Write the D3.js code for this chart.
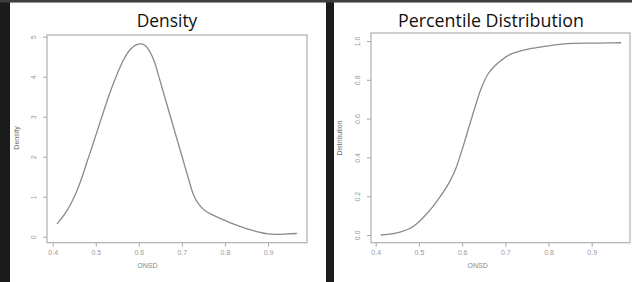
<!DOCTYPE html>
<html><head><meta charset="utf-8">
<script src="https://cdn.jsdelivr.net/npm/d3@7"></script>
<style>
html,body{margin:0;padding:0;background:#1b1b1b;}
svg{display:block;}
text{-webkit-font-smoothing:antialiased;}
</style></head>
<body>
<script>
// ---- data ----
const densityX = [0.41,0.42,0.43,0.44,0.45,0.46,0.47,0.48,0.49,0.50,0.51,0.52,0.534,0.549,0.565,0.58,0.595,0.605,0.615,0.627,0.637,0.646,0.66,0.6735,0.687,0.7005,0.714,0.727,0.74,0.755,0.77,0.79,0.81,0.835,0.86,0.885,0.9,0.92,0.945,0.967];
const densityY = [0.32,0.45,0.6,0.78,1.0,1.25,1.55,1.88,2.2,2.53,2.86,3.19,3.63,4.05,4.43,4.68,4.8,4.82,4.78,4.6,4.35,4.02,3.5,3.0,2.5,2.0,1.5,1.05,0.8,0.64,0.55,0.45,0.36,0.26,0.17,0.1,0.07,0.06,0.07,0.08];
const cdfX = [0.412,0.44,0.46,0.48,0.495,0.51,0.53,0.55,0.57,0.585,0.6,0.615,0.63,0.645,0.66,0.675,0.69,0.71,0.74,0.77,0.8,0.83,0.86,0.9,0.94,0.968];
const cdfY = [0.0,0.007,0.018,0.035,0.058,0.09,0.14,0.2,0.27,0.34,0.44,0.55,0.66,0.76,0.83,0.87,0.9,0.93,0.952,0.965,0.975,0.984,0.988,0.989,0.99,0.991];
const xTicks = [0.4,0.5,0.6,0.7,0.8,0.9];
const densityTicks = [0,1,2,3,4,5];
const cdfTicks = [0,0.2,0.4,0.6,0.8,1.0];
const titles = ["Density","Percentile Distribution"];
const yTitles = ["Density","Distribution"];
const xTitle = "ONSD";

const W = 632, H = 282;
const svg = d3.select("body").append("svg").attr("width",W).attr("height",H);
svg.append("rect").attr("width",W).attr("height",H).attr("fill","#1b1b1b");
svg.append("rect").attr("x",0).attr("y",0).attr("width",W).attr("height",2.5).attr("fill","#3e3e3e");

const panels = [
  {px:10, pw:316, box:[47,35,307,242.7], xr:[52.7,268], yd:[0,5], yr:[236.7,36.7],
   xs:densityX, ys:densityY, yt:densityTicks, fmt:d3.format("d"), title:titles[0], yTitle:yTitles[0], titleW:60.6, titleCx:167, yTitleX:16},
  {px:334, pw:298, box:[371,33,630,242.7], xr:[375.7,591.7], yd:[0,1], yr:[235,41],
   xs:cdfX, ys:cdfY, yt:cdfTicks, fmt:d3.format(".1f"), title:titles[1], yTitle:yTitles[1], titleW:186, titleCx:491, yTitleX:339}
];

panels.forEach(p => {
  svg.append("rect").attr("x",p.px).attr("y",2.5).attr("width",p.pw).attr("height",H-2.5).attr("fill","#ffffff");
  const x = d3.scaleLinear().domain([0.4,0.9]).range(p.xr);
  const y = d3.scaleLinear().domain(p.yd).range(p.yr);
  const [bx0,by0,bx1,by1] = p.box;

  // x axis
  const gx = svg.append("g").attr("transform",`translate(0,${by1})`)
    .call(d3.axisBottom(x).tickValues(xTicks).tickSize(4).tickPadding(3).tickFormat(d3.format(".1f")));
  gx.select(".domain").remove();
  gx.selectAll("line").attr("stroke","#a8a8a8");
  gx.selectAll("text").attr("fill","#9a9a9a").style("font-family","'Liberation Sans',Arial,sans-serif").style("font-size","7px");

  // y axis
  const gy = svg.append("g").attr("transform",`translate(${bx0},0)`)
    .call(d3.axisLeft(y).tickValues(p.yt).tickSize(4).tickFormat(p.fmt));
  gy.select(".domain").remove();
  gy.selectAll("line").attr("stroke","#a8a8a8");
  gy.selectAll("text").attr("fill","#9a9a9a").style("font-family","'Liberation Sans',Arial,sans-serif").style("font-size","7px")
    .attr("transform","rotate(-90)").attr("x",0).attr("y",-11).attr("dy",0).attr("text-anchor","middle");

  // box
  svg.append("rect").attr("x",bx0).attr("y",by0).attr("width",bx1-bx0).attr("height",by1-by0)
    .attr("fill","none").attr("stroke","#b0b0b0").attr("stroke-width",1.2);

  // curve
  const pts = p.xs.map((v,i)=>[v,p.ys[i]]);
  svg.append("path").datum(pts)
    .attr("d", d3.line().x(d=>x(d[0])).y(d=>y(d[1])).curve(d3.curveCatmullRom.alpha(0.5)))
    .attr("fill","none").attr("stroke","#8a8a8a").attr("stroke-width",1.3);

  // axis titles
  svg.append("text").attr("x",(x(0.4)+x(0.9))/2 + (p.px===10? -13 : -6)).attr("y",268)
    .attr("text-anchor","middle").attr("fill","#8a8a8a")
    .style("font-family","'Liberation Sans',Arial,sans-serif").style("font-size","7px").text(xTitle);
  svg.append("text").attr("transform",`translate(${p.yTitleX+2.5},138) rotate(-90)`)
    .attr("text-anchor","middle").attr("fill","#6a6a6a")
    .style("font-family","'Liberation Sans',Arial,sans-serif").style("font-size","7px").text(p.yTitle);

  // main title, fitted to measured width
  const t = svg.append("text").attr("x",p.titleCx).attr("y",26.5).attr("text-anchor","middle")
    .attr("fill","#111").style("font-family","'Open Sans','Noto Sans',sans-serif").style("font-size","20px").text(p.title);
  const w = t.node().getComputedTextLength();
  t.style("font-size", (20*p.titleW/w).toFixed(2)+"px");
});
</script>
</body></html>
